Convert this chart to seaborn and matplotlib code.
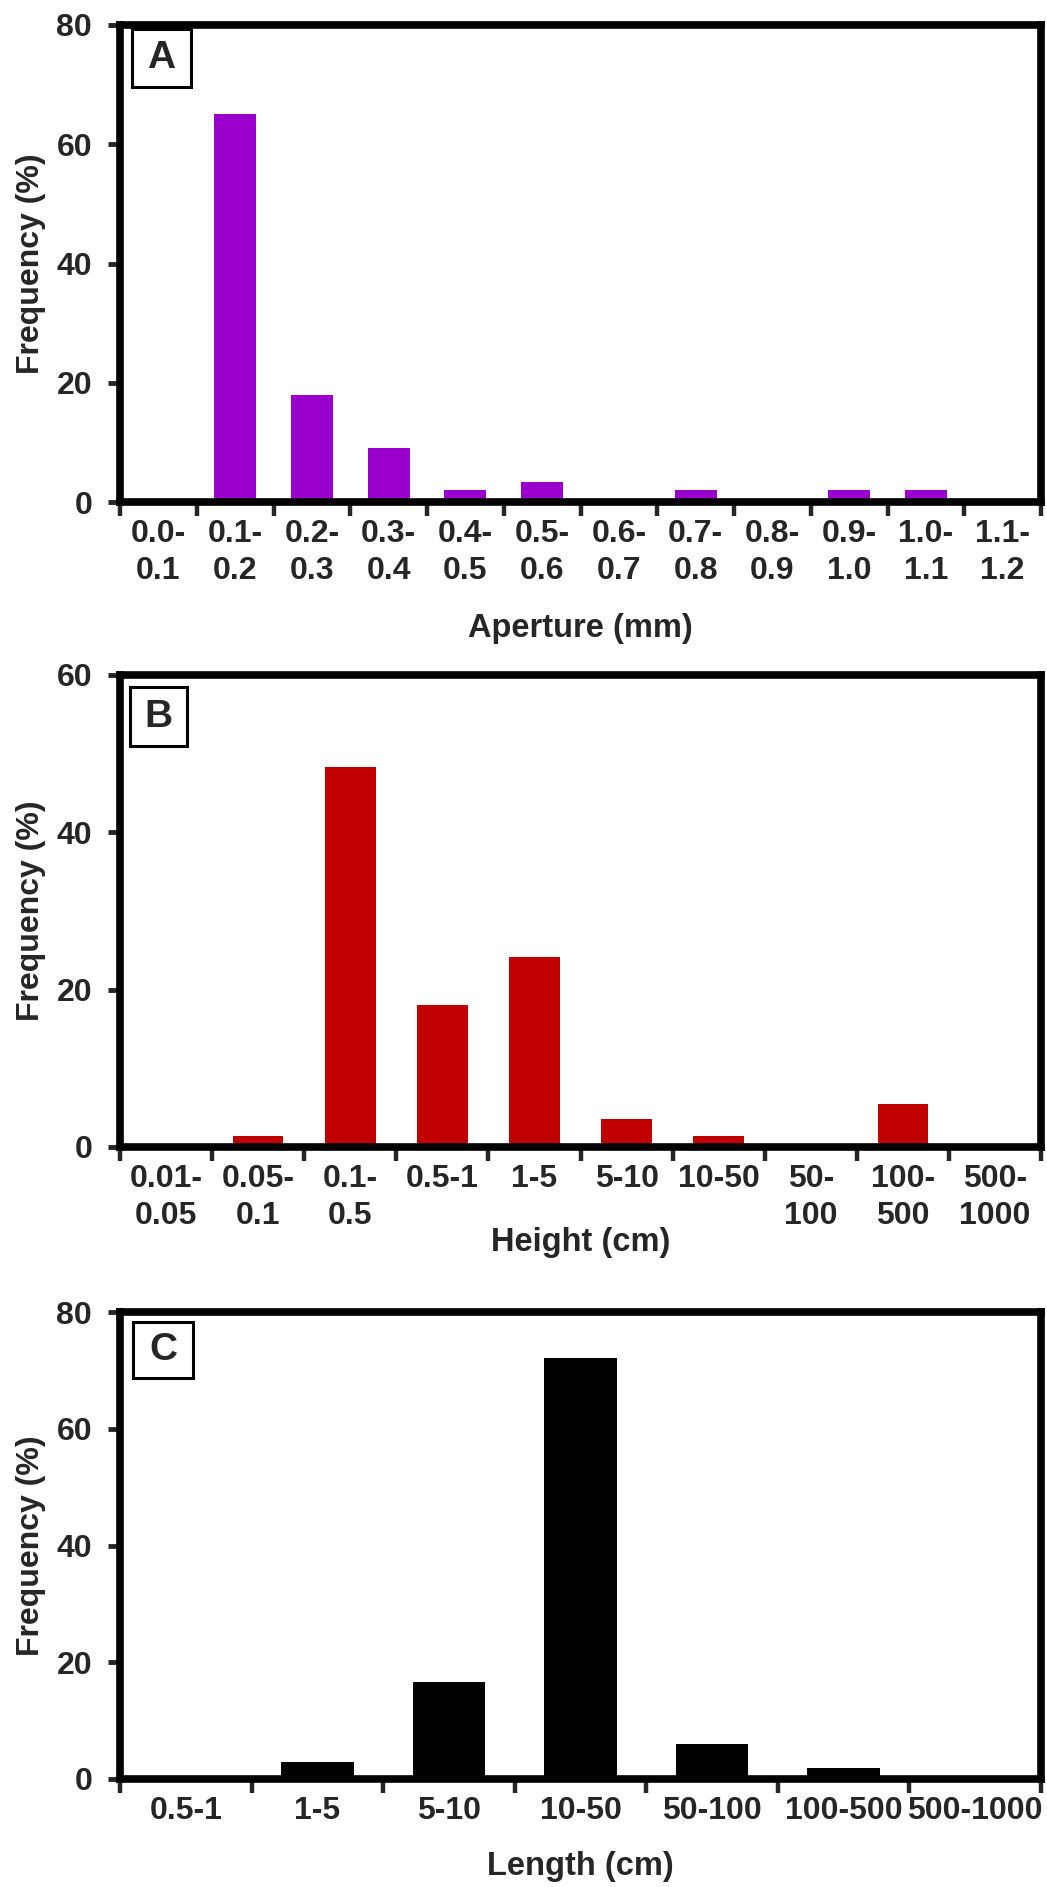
import numpy as np
import pandas as pd
import matplotlib
matplotlib.use("Agg")
import matplotlib.pyplot as plt
from matplotlib.patches import Rectangle
import seaborn as sns

# panel A - aperture
aperture_bins = ['0.0-\n0.1', '0.1-\n0.2', '0.2-\n0.3', '0.3-\n0.4', '0.4-\n0.5', '0.5-\n0.6',
                 '0.6-\n0.7', '0.7-\n0.8', '0.8-\n0.9', '0.9-\n1.0', '1.0-\n1.1', '1.1-\n1.2']
aperture_freq = [0, 65, 18, 9, 2, 3.4, 0, 2, 0, 2, 2, 0]

# panel B - height
height_bins = ['0.01-\n0.05', '0.05-\n0.1', '0.1-\n0.5', '0.5-1', '1-5', '5-10', '10-50',
               '50-\n100', '100-\n500', '500-\n1000']
height_freq = [0, 1.4, 48.3, 18.1, 24.1, 3.5, 1.4, 0, 5.5, 0]

# panel C - length
length_bins = ['0.5-1', '1-5', '5-10', '10-50', '50-100', '100-500', '500-1000']
length_freq = [0, 2.9, 16.6, 72.2, 6.0, 1.9, 0]

W, H = 1047, 1887
sns.set_style('ticks')
plt.rcParams['font.family'] = ['Liberation Sans', 'DejaVu Sans']
plt.rcParams['font.weight'] = 'bold'
plt.rcParams['axes.labelweight'] = 'bold'

fig = plt.figure(figsize=(W / 100, H / 100), dpi=100)

# axes boxes in pixels: (top, bottom)
left_px, right_px = 120, 1041
panels = [
    dict(top=25, bottom=502, bins=aperture_bins, freq=aperture_freq, color='#9900CC',
         ymax=80, xlabel='Aperture (mm)', xlab_y=628, letter='A', box=(132, 29, 59, 58)),
    dict(top=675, bottom=1147, bins=height_bins, freq=height_freq, color='#C00000',
         ymax=60, xlabel='Height (cm)', xlab_y=1242, letter='B', box=(130, 687, 57, 59)),
    dict(top=1312, bottom=1779, bins=length_bins, freq=length_freq, color='#000000',
         ymax=80, xlabel='Length (cm)', xlab_y=1867, letter='C', box=(133, 1322, 60, 56)),
]

for p in panels:
    ax = fig.add_axes([left_px / W, 1 - p['bottom'] / H,
                       (right_px - left_px) / W, (p['bottom'] - p['top']) / H])
    df = pd.DataFrame({'bin': p['bins'], 'freq': p['freq']})
    sns.barplot(data=df, x='bin', y='freq', color=p['color'], saturation=1,
                width=0.55, edgecolor='none', ax=ax)
    n = len(p['bins'])
    ax.set_xlim(-0.5, n - 0.5)
    ax.set_ylim(0, p['ymax'])
    ax.set_yticks(np.arange(0, p['ymax'] + 1, 20))
    ax.set_xticks(np.arange(n))
    ax.set_xticks(np.arange(n + 1) - 0.5, minor=True)
    ax.set_xticklabels(p['bins'], linespacing=1.3)
    ax.tick_params(axis='x', which='major', length=0, pad=12, labelsize=23)
    ax.tick_params(axis='x', which='minor', length=10, width=3.2, direction='out')
    ax.tick_params(axis='y', length=9, width=3.5, pad=11, labelsize=23)
    for s in ax.spines.values():
        s.set_visible(True)
        s.set_linewidth(5.5)
        s.set_color('black')

    ax.set_ylabel('Frequency (%)', fontsize=23, va='center')
    ax.yaxis.set_label_coords((31 - left_px) / (right_px - left_px), 0.5)
    ax.set_xlabel(p['xlabel'], fontsize=23.5, va='center')
    ax.xaxis.set_label_coords(0.5, (p['bottom'] - p['xlab_y']) / (p['bottom'] - p['top']))

    bx, by, bw, bh = p['box']
    fig.patches.append(Rectangle((bx / W, 1 - (by + bh) / H), bw / W, bh / H,
                                 transform=fig.transFigure, fc='white', ec='black', lw=2.2))
    fig.text((bx + bw / 2) / W, 1 - (by + bh / 2) / H, p['letter'], fontsize=28,
             fontweight='bold', ha='center', va='center')

fig.savefig('out.png', dpi=100)
